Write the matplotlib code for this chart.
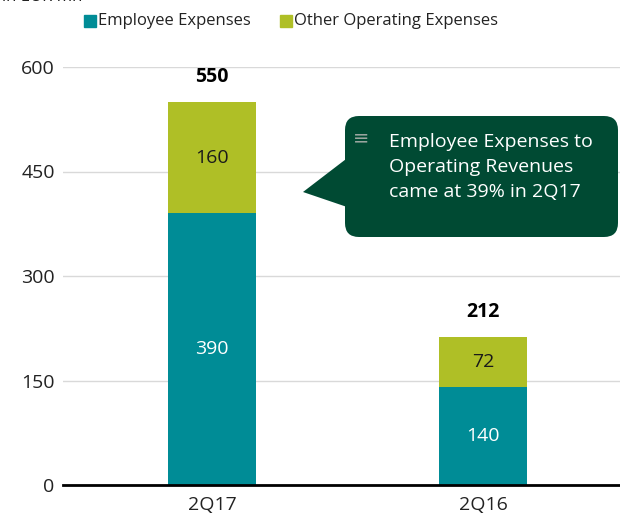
import matplotlib.pyplot as plt
from matplotlib.patches import FancyBboxPatch, Polygon

plt.rcParams['font.family'] = ['Open Sans', 'DejaVu Sans']

quarters = ['2Q17', '2Q16']
employee = [390, 140]
other = [160, 72]
totals = [e + o for e, o in zip(employee, other)]
yticks = [0, 150, 300, 450, 600]
note_lines = ['Employee Expenses to', 'Operating Revenues', 'came at 39% in 2Q17']

teal = '#008C96'
lime = '#AFBF26'
dark = '#004A33'
txt = '#222222'

fig = plt.figure(figsize=(6.2, 5.21), dpi=100)
ax = fig.add_axes([63/620, 1-485/521, 1-63/620, (485-67)/521])

x = range(len(quarters))
ax.bar(x, employee, width=0.325, color=teal, zorder=3)
ax.bar(x, other, width=0.325, bottom=employee, color=lime, zorder=3)

for i in x:
    ax.text(i, employee[i]/2, str(employee[i]), ha='center', va='center', color='white', fontsize=14)
    ax.text(i, employee[i] + other[i]/2, str(other[i]), ha='center', va='center', color='#1a1a1a', fontsize=14)
    ax.text(i, totals[i] + 36, str(totals[i]), ha='center', va='center', color='black', fontsize=14, fontweight='bold')

ax.set_xlim(-0.55, 1.505)
ax.set_ylim(0, 600)
ax.set_yticks(yticks)
ax.set_xticks(list(x))
ax.set_xticklabels(quarters)
ax.tick_params(length=0, labelsize=14, colors=txt, pad=8)
ax.tick_params(axis='y', pad=6)
ax.grid(axis='y', color='#d9d9d9', linewidth=1, zorder=0)
for s in ['top', 'right', 'left']:
    ax.spines[s].set_visible(False)
ax.spines['bottom'].set_linewidth(2)
ax.spines['bottom'].set_zorder(4)

# overlay in pixel units for legend and callout
ov = fig.add_axes([0, 0, 1, 1], zorder=5)
ov.set_xlim(0, 620)
ov.set_ylim(521, 0)
ov.axis('off')

ov.text(2, -3, 'in EUR mn', fontsize=12, color=txt, va='center')
ov.add_patch(plt.Rectangle((84, 15), 12, 12, color=teal))
ov.text(98, 21, 'Employee Expenses', fontsize=12, va='center', color=txt)
ov.add_patch(plt.Rectangle((280, 15), 12, 12, color=lime))
ov.text(294, 21, 'Other Operating Expenses', fontsize=12, va='center', color=txt)

ov.add_patch(FancyBboxPatch((345, 116), 273, 121, boxstyle='round,pad=0,rounding_size=14',
                            facecolor=dark, edgecolor='none'))
ov.add_patch(Polygon([(350, 156), (303, 192), (350, 208)], closed=True, facecolor=dark, edgecolor='none'))
ov.text(353, 138, '≡', fontsize=14, color='#9aa59f', va='center')
for k, line in enumerate(note_lines):
    ov.text(389, 142 + 25*k, line, fontsize=14, color='white', va='center', ha='left')

fig.savefig('out.png', dpi=100)
